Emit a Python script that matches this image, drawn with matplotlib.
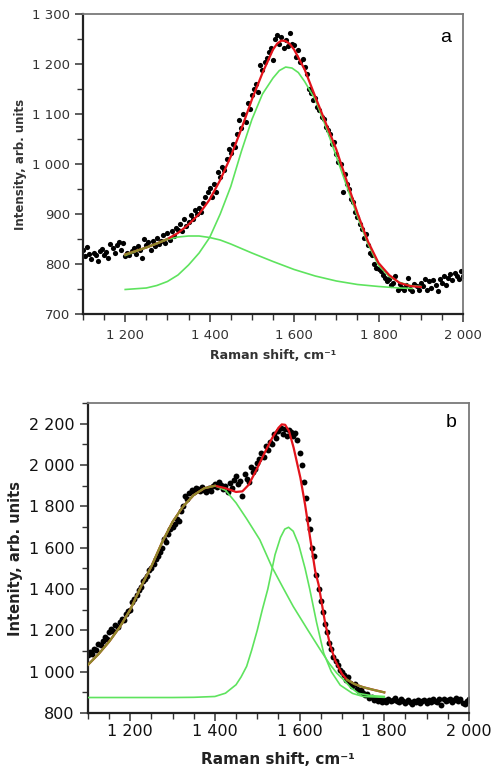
import matplotlib
matplotlib.use('Agg')
import numpy as np
from matplotlib import pyplot as plt
from matplotlib.ticker import MultipleLocator, FuncFormatter

# panel a: measured spectrum (every 5 cm-1 from 1100 to 2000)
shift_a = np.arange(1100, 2001, 5)
counts_a = [828, 815, 835, 820, 810, 822, 818, 805, 826, 830, 819, 824, 812, 840, 832, 822, 838, 845, 828, 843,
            815, 822, 818, 826, 832, 820, 836, 829, 812, 850, 838, 844, 828, 847, 836, 852, 840, 846, 858, 843,
            862, 848, 866, 856, 872, 868, 880, 866, 890, 876, 884, 898, 890, 908, 900, 912, 904, 922, 935, 945,
            952, 935, 960, 944, 985, 975, 995, 988, 1010, 1030, 1022, 1040, 1035, 1060, 1088, 1072, 1100, 1085, 1122, 1110,
            1138, 1150, 1160, 1145, 1198, 1188, 1205, 1212, 1225, 1232, 1208, 1250, 1258, 1240, 1255, 1232, 1248, 1236, 1262, 1240,
            1238, 1215, 1228, 1205, 1210, 1195, 1180, 1150, 1142, 1128, 1132, 1115, 1108, 1095, 1090, 1075, 1068, 1060, 1040, 1045,
            1020, 1005, 1000, 945, 980, 960, 950, 930, 925, 905, 895, 880, 870, 852, 860, 838, 822, 818, 800, 792,
            790, 785, 778, 772, 765, 770, 758, 762, 775, 748, 760, 752, 748, 758, 772, 750, 745, 760, 756, 748,
            762, 755, 770, 748, 765, 752, 768, 758, 745, 770, 762, 775, 758, 772, 780, 768, 782, 776, 770, 785, 775]

fit_a_x = [1200, 1225, 1250, 1275, 1300, 1325, 1350, 1375, 1400, 1425, 1450, 1475, 1500, 1525, 1550, 1560,
           1570, 1580, 1590, 1600, 1625, 1650, 1675, 1700, 1725, 1750, 1775, 1800, 1825, 1850, 1875, 1900]
fit_a_y = [819, 826, 833, 841, 850, 862, 879, 900, 929, 968, 1015, 1070, 1129, 1182, 1229, 1241,
           1247, 1246, 1240, 1229, 1189, 1135, 1082, 1029, 965, 902, 845, 802, 778, 762, 756, 754]

band_d_a_x = [1200, 1250, 1300, 1325, 1350, 1375, 1400, 1425, 1450, 1500, 1550, 1600, 1650, 1700, 1750, 1800, 1850, 1880]
band_d_a_y = [817, 833, 849, 854, 856, 856, 853, 848, 840, 822, 805, 789, 776, 766, 759, 755, 752, 751]

band_g_a_x = [1200, 1250, 1275, 1300, 1325, 1350, 1375, 1400, 1425, 1450, 1475, 1500, 1525, 1550, 1565, 1580, 1595,
              1610, 1625, 1650, 1675, 1700, 1725, 1750, 1775, 1800, 1825, 1850, 1875, 1900]
band_g_a_y = [749, 752, 757, 765, 778, 798, 822, 853, 900, 955, 1025, 1089, 1140, 1172, 1187, 1194, 1192,
              1183, 1165, 1129, 1075, 1015, 955, 895, 840, 797, 775, 763, 757, 755]

# panel b
shift_b = np.arange(1100, 2001, 5)
counts_b = [1080, 1095, 1088, 1110, 1105, 1135, 1128, 1150, 1170, 1160, 1190, 1205, 1195, 1225, 1215, 1240, 1255, 1250, 1280, 1295,
            1300, 1335, 1350, 1370, 1395, 1410, 1440, 1450, 1465, 1490, 1500, 1520, 1545, 1560, 1580, 1600, 1640, 1630, 1665, 1690,
            1700, 1715, 1740, 1730, 1780, 1800, 1850, 1835, 1865, 1880, 1870, 1890, 1885, 1875, 1895, 1880, 1870, 1890, 1875, 1900,
            1910, 1895, 1920, 1905, 1885, 1900, 1870, 1915, 1890, 1930, 1945, 1910, 1925, 1850, 1955, 1935, 1920, 1990, 1965, 1980,
            2010, 2030, 2060, 2040, 2090, 2075, 2110, 2100, 2150, 2130, 2165, 2180, 2150, 2175, 2140, 2170, 2160, 2140, 2155, 2120,
            2060, 2000, 1920, 1840, 1740, 1690, 1600, 1560, 1470, 1400, 1340, 1290, 1230, 1190, 1140, 1110, 1070, 1050, 1030, 1010,
            1000, 985, 960, 975, 945, 930, 940, 915, 905, 912, 895, 885, 890, 872, 878, 865, 870, 860, 868, 855,
            862, 855, 870, 858, 865, 875, 860, 852, 866, 858, 848, 862, 855, 845, 860, 852, 865, 850, 858, 862,
            848, 865, 855, 870, 860, 852, 866, 840, 870, 858, 862, 870, 855, 865, 872, 858, 866, 850, 845, 860, 868]

fit_b_x = [1100, 1125, 1150, 1175, 1200, 1225, 1250, 1275, 1300, 1325, 1350, 1375, 1400, 1425, 1450, 1465, 1480,
           1500, 1520, 1535, 1550, 1558, 1566, 1575, 1586, 1602, 1613, 1625, 1637, 1645, 1660, 1672, 1684, 1700,
           1712, 1730, 1750, 1775, 1800]
fit_b_y = [1033, 1085, 1145, 1215, 1300, 1410, 1510, 1625, 1725, 1800, 1855, 1888, 1900, 1888, 1870, 1873, 1905,
           1985, 2070, 2130, 2180, 2197, 2195, 2165, 2084, 1938, 1809, 1647, 1486, 1421, 1240, 1130, 1055, 990,
           961, 940, 925, 912, 900]

band_d_b_x = [1100, 1125, 1150, 1175, 1200, 1225, 1250, 1275, 1300, 1325, 1350, 1375, 1400, 1425, 1450, 1475,
              1506, 1534, 1560, 1585, 1620, 1649, 1670, 1688, 1704, 1720, 1739, 1770, 1800]
band_d_b_y = [1033, 1085, 1145, 1215, 1300, 1410, 1510, 1625, 1725, 1800, 1855, 1888, 1900, 1878, 1817, 1740,
              1639, 1510, 1410, 1316, 1200, 1106, 1040, 993, 961, 925, 895, 884, 880]

band_g_b_x = [1100, 1200, 1300, 1350, 1400, 1425, 1450, 1462, 1475, 1487, 1500, 1512, 1525, 1542, 1555, 1565,
              1574, 1585, 1598, 1613, 1624, 1640, 1657, 1675, 1696, 1725, 1750, 1800]
band_g_b_y = [875, 875, 875, 876, 880, 896, 937, 975, 1026, 1105, 1200, 1300, 1400, 1566, 1650, 1690,
              1699, 1680, 1615, 1500, 1400, 1240, 1090, 1000, 935, 895, 880, 876]

RED = '#e3131b'
GREEN = '#5ee35e'
OLIVE = '#8d8a2c'


def spaced(v, pos):
    return f'{int(round(v)):,}'.replace(',', ' ')


def style(ax, fs, color):
    ax.spines['left'].set_linewidth(1.6)
    ax.spines['bottom'].set_linewidth(1.6)
    ax.spines['left'].set_color('#222222')
    ax.spines['bottom'].set_color('#222222')
    for s in ('top', 'right'):
        ax.spines[s].set_color('#7a7a7a')
        ax.spines[s].set_linewidth(1.3)
    ax.xaxis.set_major_locator(MultipleLocator(200))
    ax.xaxis.set_minor_locator(MultipleLocator(50))
    ax.xaxis.set_major_formatter(FuncFormatter(spaced))
    ax.yaxis.set_major_formatter(FuncFormatter(spaced))
    ax.tick_params(which='major', length=6, width=1.1, colors='#333333', labelsize=fs, labelcolor=color)
    ax.tick_params(which='minor', length=4, width=1.0, colors='#333333')
    ax.tick_params(axis='x', which='both', direction='out')


fig = plt.figure(figsize=(4.91, 7.69), dpi=100)

# ---- a ----
ax = fig.add_axes([0.169, 0.5917, 0.774, 0.390])
ax.scatter(shift_a, counts_a, s=14, color='black', linewidths=0, zorder=2)
ax.plot(band_d_a_x, band_d_a_y, color=GREEN, lw=1.2, zorder=3)
ax.plot(band_g_a_x, band_g_a_y, color=GREEN, lw=1.2, zorder=3)
ax.plot(fit_a_x, fit_a_y, color=RED, lw=1.6, zorder=4)
ax.plot(fit_a_x[:5], fit_a_y[:5], color=OLIVE, lw=1.6, zorder=5)
ax.set_xlim(1100, 2000)
ax.set_ylim(700, 1300)
ax.yaxis.set_major_locator(MultipleLocator(100))
ax.yaxis.set_minor_locator(MultipleLocator(50))
style(ax, 9.5, '#333333')
ax.tick_params(axis='x', which='major', pad=5)
ax.set_xlabel('Raman shift, cm⁻¹', fontsize=9, fontweight='bold', color='#333333')
ax.set_ylabel('Intensity, arb. units', fontsize=8.5, fontweight='bold', color='#333333')
ax.xaxis.set_label_coords(0.5, -0.118)
ax.yaxis.set_label_coords(-0.148, 0.5)
ax.text(0.953, 0.923, 'a', transform=ax.transAxes, fontsize=14, ha='center', va='center',
        family='Liberation Sans')

# ---- b ----
ax = fig.add_axes([0.179, 0.0728, 0.776, 0.403])
ax.scatter(shift_b, counts_b, s=18, color='black', linewidths=0, zorder=2)
ax.plot(band_d_b_x, band_d_b_y, color=GREEN, lw=1.2, zorder=3)
ax.plot(band_g_b_x, band_g_b_y, color=GREEN, lw=1.2, zorder=3)
ax.plot(fit_b_x, fit_b_y, color=RED, lw=1.6, zorder=4)
ax.plot(fit_b_x[:13], fit_b_y[:13], color=OLIVE, lw=1.6, zorder=5)
ax.plot(fit_b_x[-5:], fit_b_y[-5:], color=OLIVE, lw=1.6, zorder=5)
ax.set_xlim(1100, 2000)
ax.set_ylim(800, 2300)
ax.yaxis.set_major_locator(MultipleLocator(200))
ax.yaxis.set_minor_locator(MultipleLocator(100))
style(ax, 11.5, '#111111')
ax.tick_params(axis='x', which='major', pad=2)
ax.set_xlabel('Raman shift, cm⁻¹', fontsize=11, fontweight='bold', color='#222222')
ax.set_ylabel('Intenity, arb. units', fontsize=10.5, fontweight='bold', color='#222222')
ax.xaxis.set_label_coords(0.5, -0.127)
ax.yaxis.set_label_coords(-0.17, 0.5)
ax.text(0.953, 0.939, 'b', transform=ax.transAxes, fontsize=14, ha='center', va='center',
        family='Liberation Sans')

fig.savefig('out.png', dpi=100)
